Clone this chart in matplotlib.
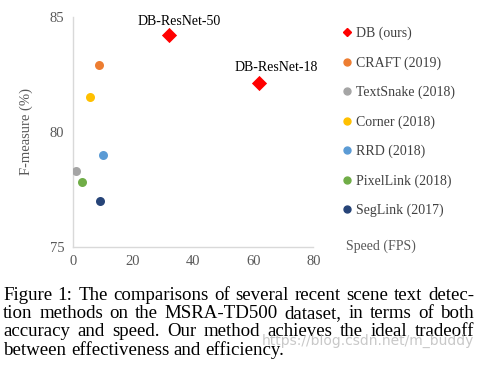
import matplotlib
matplotlib.use('Agg')
import matplotlib.pyplot as plt
from matplotlib.lines import Line2D

# Data
methods = ["DB (ours)", "CRAFT (2019)", "TextSnake (2018)", "Corner (2018)",
           "RRD (2018)", "PixelLink (2018)", "SegLink (2017)"]
colors = ["#FF0000", "#ED7D31", "#A5A5A5", "#FFC000", "#5B9BD5", "#70AD47", "#264478"]
# DB has two points (ResNet-50, ResNet-18)
db_fps = [32.0, 62.0]
db_f = [84.2, 82.1]
db_names = ["DB-ResNet-50", "DB-ResNet-18"]
other_fps = [8.6, 1.1, 5.7, 10.1, 3.0, 8.9]
other_f = [82.9, 78.3, 81.5, 79.0, 77.8, 77.0]

xticks = [0, 20, 40, 60, 80]
yticks = [75, 80, 85]

caption_lines = [
    "Figure 1: The comparisons of several recent scene text detec-",
    "tion methods on the MSRA-TD500 dataset, in terms of both",
    "accuracy and speed. Our method achieves the ideal tradeoff",
    "between effectiveness and efficiency.",
]

plt.rcParams['font.family'] = ['Liberation Serif', 'DejaVu Serif']
GREY = "#595959"

fig = plt.figure(figsize=(4.85, 3.74), dpi=100)
ax = fig.add_axes([0.15, 0.3404, 0.496, 0.6149])

ax.scatter(db_fps, db_f, marker='D', s=60, color=colors[0], zorder=3, linewidths=0)
for x, y, c in zip(other_fps, other_f, colors[1:]):
    ax.scatter([x], [y], marker='o', s=42, color=c, zorder=3, linewidths=0)

label_offsets = [(10, 7), (17, 9)]  # pixels, label sits up and to the right
for x, y, name, off in zip(db_fps, db_f, db_names, label_offsets):
    ax.annotate(name, (x, y), xytext=off, textcoords='offset pixels',
                ha='center', va='bottom', fontsize=10, color='black')

ax.set_xlim(0, 80)
ax.set_ylim(75, 85)
ax.set_xticks(xticks)
ax.set_yticks(yticks)
ax.tick_params(length=0, labelsize=10.5, labelcolor=GREY, pad=6)
for side in ['top', 'right']:
    ax.spines[side].set_visible(False)
for side in ['left', 'bottom']:
    ax.spines[side].set_color("#D9D9D9")
    ax.spines[side].set_linewidth(1.0)
ax.set_ylabel("F-measure (%)", fontsize=10.5, color=GREY, labelpad=12)

handles = [Line2D([], [], marker='D', linestyle='none', color=colors[0], markersize=4.5)]
handles += [Line2D([], [], marker='o', linestyle='none', color=c, markersize=5) for c in colors[1:]]
fig.legend(handles, methods, loc='upper left', bbox_to_anchor=(0.706, 0.928),
           frameon=False, fontsize=10, labelspacing=1.15, handlelength=0.6,
           handletextpad=0.35, borderpad=0, borderaxespad=0, labelcolor="#404040")

fig.text(346 / 485, 1 - 246 / 374, "Speed (FPS)", fontsize=10, color=GREY,
         ha='left', va='center')

# Caption, justified like the paper
renderer = fig.canvas.get_renderer()
W = 485.0
left_px, right_px = 3.0, 474.0
line_y = [295, 313.5, 332, 350.5]
cap_size = 13.6
for i, (line, ypx) in enumerate(zip(caption_lines, line_y)):
    words = line.split(" ")
    texts = [fig.text(0, 1 - ypx / 374, w, fontsize=cap_size, color='black',
                      ha='left', va='center') for w in words]
    widths = [t.get_window_extent(renderer).width for t in texts]
    last = i == len(caption_lines) - 1
    if last:
        sp = fig.text(0, 0, "a b", fontsize=cap_size)
        sp2 = fig.text(0, 0, "ab", fontsize=cap_size)
        gap = sp.get_window_extent(renderer).width - sp2.get_window_extent(renderer).width
        sp.remove()
        sp2.remove()
    else:
        gap = (right_px - left_px - sum(widths)) / (len(words) - 1)
    x = left_px
    for t, w in zip(texts, widths):
        t.set_x(x / W)
        x += w + gap

# Blog watermark, scaled to span the same width as in the reference
wm = fig.text(262 / 485, 1 - 341 / 374, "https://blog.csdn.net/m_buddy", fontsize=11,
              family='DejaVu Sans', color='#BBBBBB', alpha=0.8, ha='left', va='center')
wm_w = wm.get_window_extent(renderer).width
wm.set_fontsize(11 * 212.0 / wm_w)

fig.savefig('out.png', dpi=100)
